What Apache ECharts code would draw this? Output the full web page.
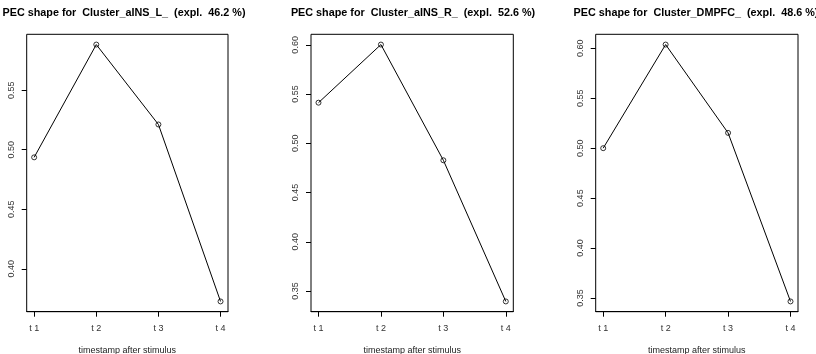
<!DOCTYPE html>
<html><head><meta charset="utf-8">
<script src="https://cdn.jsdelivr.net/npm/echarts@6/dist/echarts.min.js"></script>
<style>html,body{margin:0;padding:0;background:#fff}#c{width:816px;height:354px}</style>
</head><body><div id="c"></div>
<script>
// Time points after the stimulus (x categories)
const timepoints = ['t 1', 't 2', 't 3', 't 4'];
// Cluster names and explained variance (%)
const clusterNames = ['Cluster_aINS_L_', 'Cluster_aINS_R_', 'Cluster_DMPFC_'];
const explained = ['46.2', '52.6', '48.6'];
// PEC shape values per cluster
const shapeAINS_L = [0.4936, 0.5883, 0.5212, 0.3726];
const shapeAINS_R = [0.5413, 0.6003, 0.4828, 0.3395];
const shapeDMPFC  = [0.5000, 0.6037, 0.5153, 0.3466];
// Candidate y tick values
const yTicks = [0.30, 0.35, 0.40, 0.45, 0.50, 0.55, 0.60, 0.65];

const shapes = [shapeAINS_L, shapeAINS_R, shapeDMPFC];
const panelLeft = [26.7, 311, 595.7];
const panelWidth = [201.3, 202.3, 202.3];
const titleCenter = [124, 413, 696];
const gridTop = 34.3, gridHeight = 277.4;
const FONT = '"Liberation Sans", Arial, Helvetica, sans-serif';
const xIdx = timepoints.map((_, i) => i + 1);

// R-style 4% axis padding
function padRange(lo, hi) {
  const d = (hi - lo) * 0.04;
  return [lo - d, hi + d];
}

const grids = [], xAxes = [], yAxes = [], series = [], titles = [];
shapes.forEach((vals, k) => {
  grids.push({
    left: panelLeft[k], top: gridTop, width: panelWidth[k], height: gridHeight,
    outerBoundsMode: 'none', containLabel: false,
    show: true, borderColor: '#000', borderWidth: 1, backgroundColor: 'transparent'
  });
  const [xmin, xmax] = padRange(1, timepoints.length);
  xAxes.push({
    type: 'value', gridIndex: k, min: xmin, max: xmax,
    name: 'timestamp after stimulus', nameLocation: 'middle', nameGap: 34,
    nameTextStyle: { fontFamily: FONT, fontSize: 9, color: '#222' },
    axisLine: { show: true, lineStyle: { color: '#000', width: 1 } },
    splitLine: { show: false },
    axisTick: { show: true, customValues: xIdx, length: 5, inside: false,
      lineStyle: { color: '#000', width: 1 } },
    axisLabel: { customValues: xIdx, margin: 12, fontFamily: FONT, fontSize: 9, color: '#333',
      formatter: v => timepoints[Math.round(v) - 1] || '' }
  });
  const [ymin, ymax] = padRange(Math.min(...vals), Math.max(...vals));
  const ticks = yTicks.filter(t => t >= ymin && t <= ymax);
  yAxes.push({
    type: 'value', gridIndex: k, min: ymin, max: ymax,
    axisLine: { show: false },
    splitLine: { show: false },
    axisTick: { show: true, customValues: ticks, length: 5,
      lineStyle: { color: '#000', width: 1 } },
    axisLabel: { customValues: ticks, rotate: 90, margin: 11, fontFamily: FONT, fontSize: 9, color: '#333',
      formatter: v => v.toFixed(2) }
  });
  series.push({
    type: 'line', xAxisIndex: k, yAxisIndex: k,
    data: vals.map((v, i) => [xIdx[i], v]),
    symbol: 'circle', symbolSize: 5, showSymbol: true,
    lineStyle: { color: '#000', width: 1 },
    itemStyle: { color: 'transparent', borderColor: '#000', borderWidth: 0.8 },
    animation: false, silent: true
  });
  titles.push({
    text: 'PEC shape for  ' + clusterNames[k] + '  (expl.  ' + explained[k] + ' %)',
    left: titleCenter[k], top: 8, textAlign: 'center', padding: 0,
    textStyle: { fontFamily: FONT, fontSize: 10.8, fontWeight: 'bold', color: '#000' }
  });
});

const chart = echarts.init(document.getElementById('c'), null, { renderer: 'canvas' });
chart.setOption({
  animation: false,
  backgroundColor: '#fff',
  title: titles,
  grid: grids,
  xAxis: xAxes,
  yAxis: yAxes,
  series: series
});
</script>
</body></html>
